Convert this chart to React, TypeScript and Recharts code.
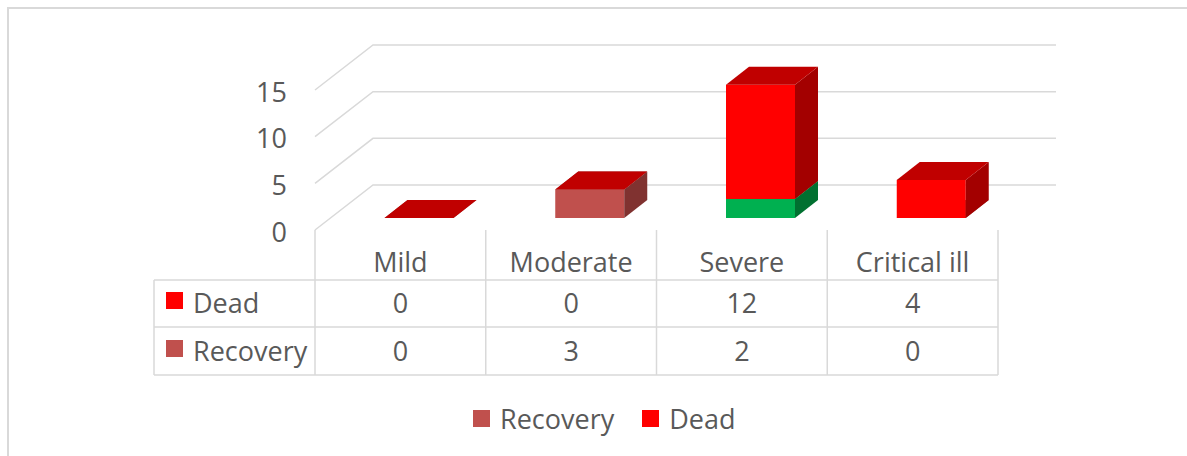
import React from 'react';
import { BarChart, Bar, XAxis, YAxis, CartesianGrid, Legend, Cell } from 'recharts';

const categories = ['Mild', 'Moderate', 'Severe', 'Critical ill'];
const recovery = [0, 3, 2, 0];
const dead = [0, 0, 12, 4];
const yTicks = [0, 5, 10, 15];
const legendOrder = ['Recovery', 'Dead'];

const data = categories.map((name, i) => ({ name, Recovery: recovery[i], Dead: dead[i] }));

// layout of the fake 3D plot
const W = 1187;
const H = 456;
const PLOT_LEFT = 315;
const PLOT_RIGHT = 998;
const PLOT_BOTTOM = 230;
const FLOOR_DX = 58;
const FLOOR_DY = 45;
const BAR_DX = 18.5;
const BAR_DY = 12;
const BOX_DX = 23;
const BOX_DY = 18;
const K = 1.02;

const TEXT = '#595959';
const GRID = '#d9d9d9';
const FONT = '"Open Sans", sans-serif';
const FS = 27;

const COLORS = { Recovery: '#C0504D', Dead: '#FF0000' };
const SEVERE_RECOVERY = '#00B050';
const SHADES: Record<string, { top: string; side: string }> = {
  '#FF0000': { top: '#C00000', side: '#A30000' },
  '#C0504D': { top: '#9A3D3B', side: '#803230' },
  '#00B050': { top: '#008C40', side: '#007030' },
};

function Box3D(props: any) {
  const { x, y, width, height, fill } = props;
  if (x == null || y == null) return null;
  const ty = (v: number) => PLOT_BOTTOM - (PLOT_BOTTOM - v) * K - BAR_DY;
  const l = x + BAR_DX;
  const r = l + width;
  const top = ty(y);
  const bot = ty(y + (height || 0));
  const s = SHADES[fill] ?? { top: fill, side: fill };
  return (
    <g>
      <rect x={l} y={top} width={width} height={Math.max(0, bot - top)} fill={fill} />
      <polygon
        points={`${r},${top} ${r + BOX_DX},${top - BOX_DY} ${r + BOX_DX},${bot - BOX_DY} ${r},${bot}`}
        fill={s.side}
      />
      <polygon
        points={`${l},${top} ${l + BOX_DX},${top - BOX_DY} ${r + BOX_DX},${top - BOX_DY} ${r},${top}`}
        fill={s.top}
      />
    </g>
  );
}

function GridLine(props: any) {
  const { x1, y1, x2 } = props;
  return (
    <path
      d={`M${x1},${y1} L${x1 + FLOOR_DX},${y1 - FLOOR_DY} L${x2 + FLOOR_DX},${y1 - FLOOR_DY}`}
      stroke={GRID}
      strokeWidth={1.5}
      fill="none"
    />
  );
}

function YTick(props: any) {
  const { y, payload } = props;
  return (
    <text x={287} y={y + 11.5} textAnchor="end" fill={TEXT} fontSize={FS} fontFamily={FONT}>
      {payload.value}
    </text>
  );
}

const T = { left: 154, top: 230, rowTop: 280, mid: 327, bottom: 375 };

function TableTick(props: any) {
  const { x, index, payload } = props;
  const band = (PLOT_RIGHT - PLOT_LEFT) / categories.length;
  const colL = x - band / 2;
  const colR = x + band / 2;
  const txt = { fill: TEXT, fontSize: FS, fontFamily: FONT };
  return (
    <g>
      {index === 0 && (
        <g>
          {[T.rowTop, T.mid, T.bottom].map((yy) => (
            <line key={yy} x1={T.left} y1={yy} x2={PLOT_RIGHT} y2={yy} stroke={GRID} strokeWidth={1.5} />
          ))}
          <line x1={T.left} y1={T.rowTop} x2={T.left} y2={T.bottom} stroke={GRID} strokeWidth={1.5} />
          <rect x={166} y={292} width={17} height={17} fill={COLORS.Dead} />
          <text x={193} y={313} {...txt}>Dead</text>
          <rect x={166} y={340} width={17} height={17} fill={COLORS.Recovery} />
          <text x={193} y={361} {...txt}>Recovery</text>
        </g>
      )}
      <line x1={colL} y1={T.top} x2={colL} y2={T.bottom} stroke={GRID} strokeWidth={1.5} />
      {index === categories.length - 1 && (
        <line x1={colR} y1={T.top} x2={colR} y2={T.bottom} stroke={GRID} strokeWidth={1.5} />
      )}
      <text x={x} y={272} textAnchor="middle" {...txt}>{payload.value}</text>
      <text x={x} y={313} textAnchor="middle" {...txt}>{dead[index]}</text>
      <text x={x} y={361} textAnchor="middle" {...txt}>{recovery[index]}</text>
    </g>
  );
}

function LegendContent(props: any) {
  const items = [...(props.payload || [])].sort(
    (a: any, b: any) => legendOrder.indexOf(a.value) - legendOrder.indexOf(b.value)
  );
  return (
    <div style={{ display: 'flex', gap: 28, fontFamily: FONT, fontSize: FS, color: TEXT }}>
      {items.map((p: any) => (
        <div key={p.value} style={{ display: 'flex', alignItems: 'center' }}>
          <span style={{ width: 17, height: 17, background: p.color, marginRight: 10, display: 'inline-block' }} />
          {p.value}
        </div>
      ))}
    </div>
  );
}

export default function App() {
  return (
    <div style={{ position: 'absolute', left: 0, top: 0, width: W, height: H, background: '#fff' }}>
      <div
        style={{
          position: 'absolute',
          left: 7,
          top: 7,
          width: W - 7,
          height: H - 7,
          boxSizing: 'border-box',
          borderLeft: `2px solid ${GRID}`,
          borderTop: `2px solid ${GRID}`,
        }}
      />
      <BarChart
        width={W}
        height={H}
        data={data}
        margin={{ top: 90, right: W - PLOT_RIGHT, bottom: H - PLOT_BOTTOM - 30, left: PLOT_LEFT - 60 }}
      >
        <CartesianGrid vertical={false} horizontal={(p: any) => <GridLine key={p.key} {...p} />} />
        <XAxis
          dataKey="name"
          height={30}
          axisLine={false}
          tickLine={false}
          interval={0}
          tick={(p: any) => <TableTick key={p.index} {...p} />}
        />
        <YAxis
          width={60}
          domain={[0, 15]}
          ticks={yTicks}
          axisLine={false}
          tickLine={false}
          tick={(p: any) => <YTick key={p.index} {...p} />}
        />
        <Legend
          layout="horizontal"
          verticalAlign="middle"
          align="center"
          wrapperStyle={{ left: 473, top: 400, width: 'auto' }}
          content={(p: any) => <LegendContent {...p} />}
        />
        <Bar dataKey="Recovery" stackId="a" barSize={69} fill={COLORS.Recovery} shape={(p: any) => <Box3D {...p} />} isAnimationActive={false}>
          {categories.map((c) => (
            <Cell key={c} fill={c === 'Severe' ? SEVERE_RECOVERY : COLORS.Recovery} />
          ))}
        </Bar>
        <Bar dataKey="Dead" stackId="a" barSize={69} fill={COLORS.Dead} shape={(p: any) => <Box3D {...p} />} isAnimationActive={false} />
      </BarChart>
    </div>
  );
}
